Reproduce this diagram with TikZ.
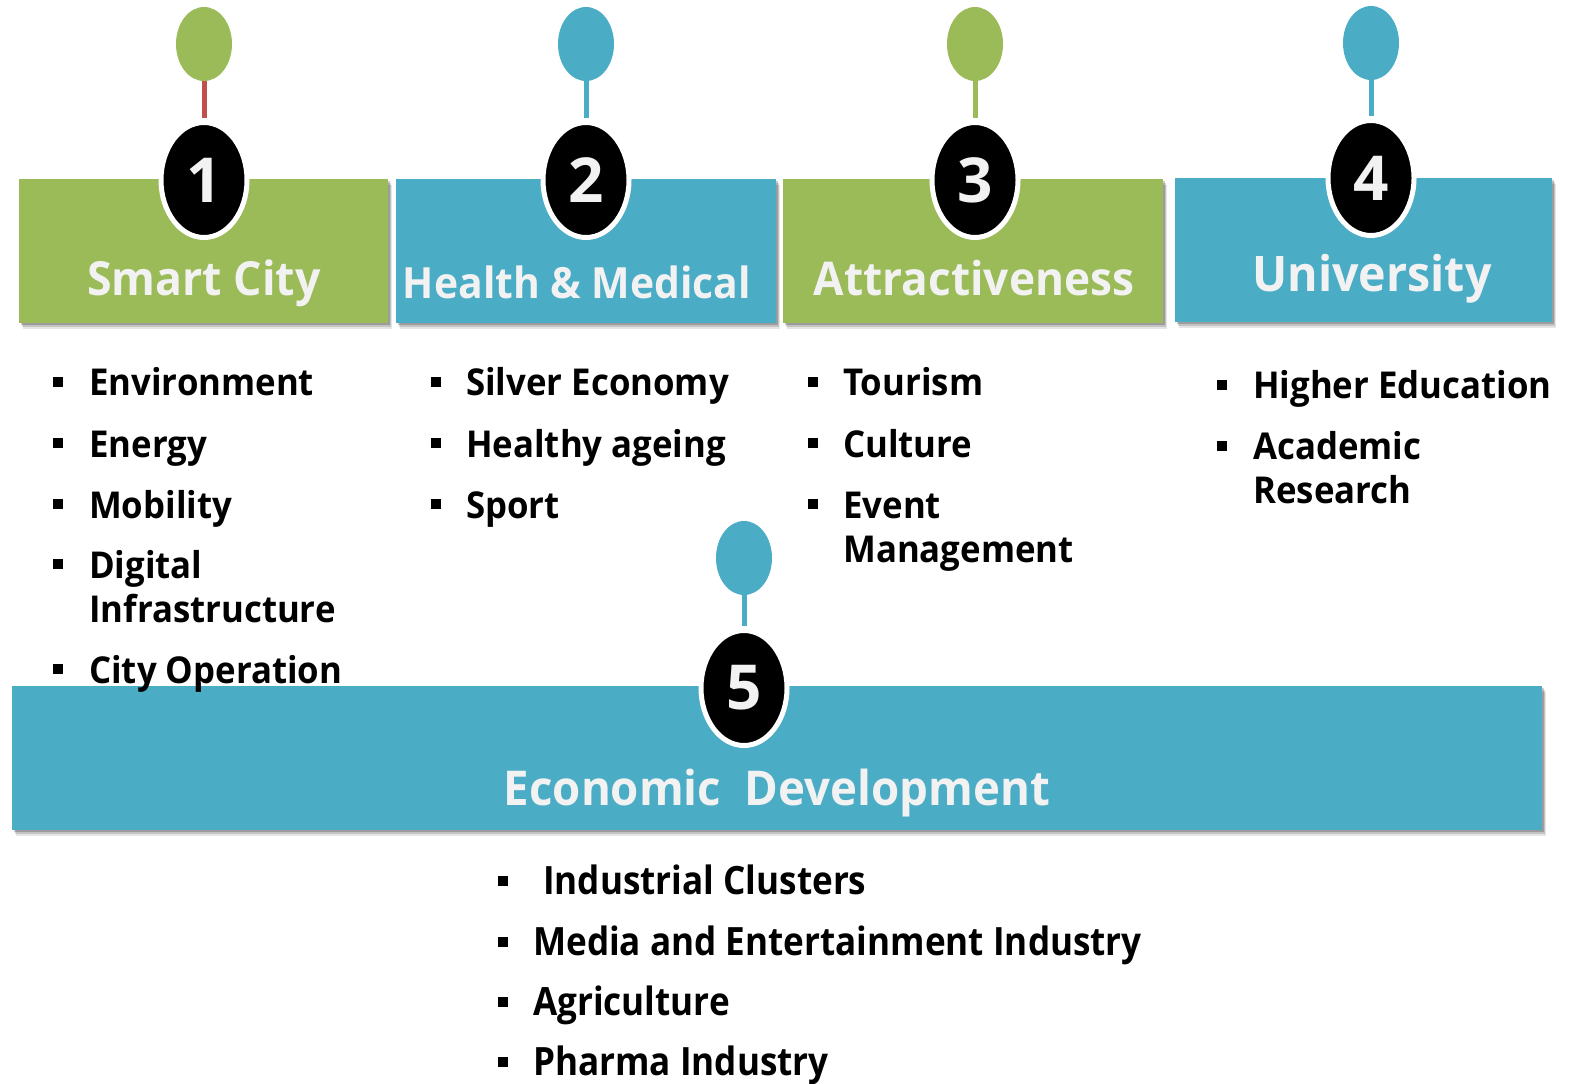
\documentclass[tikz,border=0pt]{standalone}
\usepackage{fontspec}
\setmainfont{Open Sans}
\newfontfamily\condfont[FakeStretch=0.90]{Open Sans}
\newfontfamily\itemfont[FakeStretch=0.94]{Open Sans}
\newfontfamily\titlefont[FakeStretch=0.95]{Open Sans}
\usetikzlibrary{shapes.geometric,shadows}
\definecolor{cgreen}{HTML}{9BBB59}
\definecolor{cblue}{HTML}{4BACC6}
\definecolor{cred}{HTML}{C0504D}
\definecolor{ctext}{HTML}{F2F2F2}
\tikzset{
  box/.style={rectangle, inner sep=0pt, anchor=north west, minimum height=144pt,
    drop shadow={shadow xshift=4pt, shadow yshift=-6pt, opacity=.10, fill=black},
    drop shadow={shadow xshift=3pt, shadow yshift=-4pt, opacity=.15, fill=black},
    drop shadow={shadow xshift=2pt, shadow yshift=-2pt, opacity=.2, fill=black}},
  num/.style={ellipse, fill=black, draw=white, line width=5pt, minimum width=86pt,
    minimum height=115pt, inner sep=0pt, text=ctext, font=\bfseries\fontsize{62}{62}\selectfont},
  pin/.style={ellipse, minimum width=56pt, minimum height=74pt, inner sep=0pt},
  stem/.style={line width=5pt},
  title/.style={anchor=base, inner sep=0pt, text=ctext},
  itm/.style={anchor=base west, inner sep=0pt, font=\itemfont\bfseries\fontsize{37}{37}\selectfont},
  citm/.style={anchor=base west, inner sep=0pt, font=\condfont\bfseries\fontsize{39}{39}\selectfont},
  bul/.style={rectangle, fill=black, minimum size=9.5pt, inner sep=0pt}
}
\begin{document}
\begin{tikzpicture}[x=1pt,y=-1pt]
\useasboundingbox (0,0) rectangle (1572,1084);
% boxes
\node[box, fill=cgreen, minimum width=369pt] (b1) at (19,179) {};
\node[box, fill=cblue, minimum width=380pt] (b2) at (396,179) {};
\node[box, fill=cgreen, minimum width=380pt] (b3) at (783,179) {};
\node[box, fill=cblue, minimum width=377pt] (b4) at (1175,178) {};
\node[box, fill=cblue, minimum width=1530pt] (b5) at (12,686) {};
% pins
\node[pin, fill=cgreen] (p1) at (204,44) {};
\node[pin, fill=cblue] (p2) at (586,44) {};
\node[pin, fill=cgreen] (p3) at (975,44) {};
\node[pin, fill=cblue] (p4) at (1371,43) {};
\node[pin, fill=cblue] (p5) at (744,558) {};
% number ellipses
\node[num] (n1) at (204,180) {1};
\node[num] (n2) at (586,180) {2};
\node[num] (n3) at (975,180) {3};
\node[num] (n4) at (1371,178) {4};
\node[num] (n5) at (744,688) {5};
% stems
\draw[stem, cred] (p1.south) -- ([yshift=2pt]n1.north);
\draw[stem, cblue] (p2.south) -- ([yshift=2pt]n2.north);
\draw[stem, cgreen] (p3.south) -- ([yshift=2pt]n3.north);
\draw[stem, cblue] (p4.south) -- ([yshift=2pt]n4.north);
\draw[stem, cblue] (p5.south) -- ([yshift=2pt]n5.north);
% titles
\node[title, font=\titlefont\bfseries\fontsize{47}{47}\selectfont] (t1) at (204,295) {Smart City};
\node[title, font=\titlefont\bfseries\fontsize{43}{43}\selectfont] (t2) at (577,298) {Health \& Medical};
\node[title, font=\titlefont\bfseries\fontsize{46.5}{46.5}\selectfont] (t3) at (974,295) {Attractiveness};
\node[title, font=\titlefont\bfseries\fontsize{49}{49}\selectfont] (t4) at (1372,291) {University};
\node[title, font=\titlefont\bfseries\fontsize{48}{48}\selectfont] (t5) at (777,805) {Economic\ \ Development};
% column 1
\node[bul] (k11) at (58,382) {};
\node[itm] (i11) at (89,395) {Environment};
\node[bul] (k12) at (58,443) {};
\node[itm] (i12) at (89,457) {Energy};
\node[bul] (k13) at (58,504) {};
\node[itm] (i13) at (89,518) {Mobility};
\node[bul] (k14) at (58,564) {};
\node[itm] (i14) at (89,578) {Digital};
\node[itm] (i14b) at (89,622) {Infrastructure};
\node[bul] (k15) at (58,669) {};
\node[itm] (i15) at (89,683) {City Operation};
% column 2
\node[bul] (k21) at (436,382) {};
\node[itm] (i21) at (466,395) {Silver Economy};
\node[bul] (k22) at (436,443) {};
\node[itm] (i22) at (466,457) {Healthy ageing};
\node[bul] (k23) at (436,504) {};
\node[itm] (i23) at (466,518) {Sport};
% column 3
\node[bul] (k31) at (813,382) {};
\node[itm] (i31) at (843,395) {Tourism};
\node[bul] (k32) at (813,443) {};
\node[itm] (i32) at (843,457) {Culture};
\node[bul] (k33) at (813,504) {};
\node[itm] (i33) at (843,518) {Event};
\node[itm] (i33b) at (843,562) {Management};
% column 4
\node[bul] (k41) at (1222,385) {};
\node[itm] (i41) at (1253,398) {Higher Education};
\node[bul] (k42) at (1222,446) {};
\node[itm] (i42) at (1253,459) {Academic};
\node[itm] (i42b) at (1253,503) {Research};
% column 5
\node[bul] (k51) at (503,881) {};
\node[citm] (i51) at (543,894) {Industrial Clusters};
\node[bul] (k52) at (503,942) {};
\node[citm] (i52) at (533,955) {Media and Entertainment Industry};
\node[bul] (k53) at (503,1002) {};
\node[citm] (i53) at (533,1015) {Agriculture};
\node[bul] (k54) at (503,1062) {};
\node[citm] (i54) at (533,1075) {Pharma Industry};
\end{tikzpicture}
\end{document}
